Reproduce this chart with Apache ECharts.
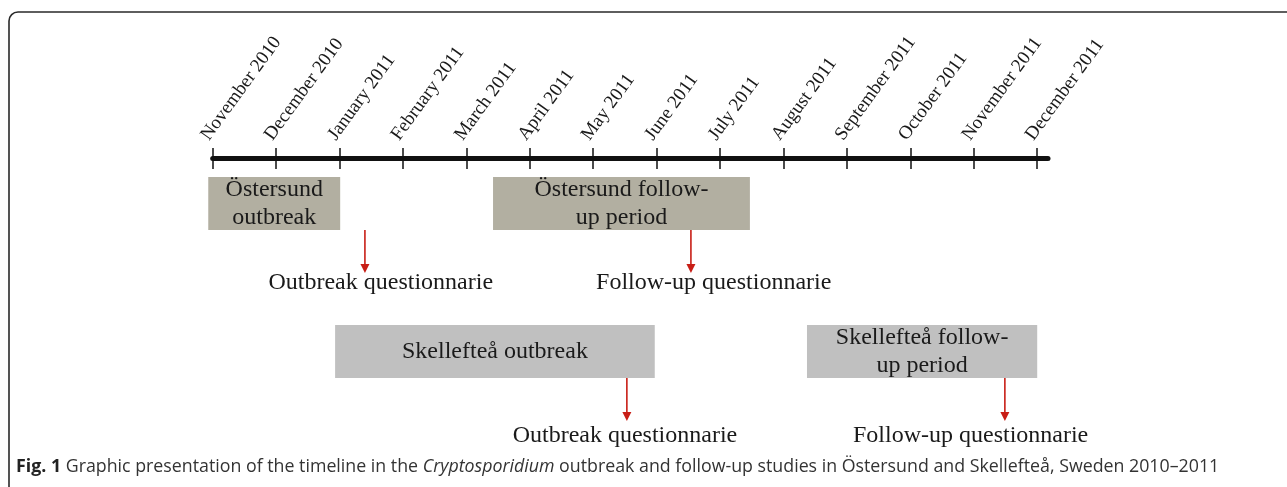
<!DOCTYPE html>
<html>
<head>
<meta charset="utf-8">
<script src="https://cdn.jsdelivr.net/npm/echarts@6/dist/echarts.min.js"></script>
<style>
  html, body { margin: 0; padding: 0; background: #fff; }
  #timeline { width: 1287px; height: 487px; }
</style>
</head>
<body>
<div id="timeline"></div>
<script>
// months on the axis, index 0 = November 2010
const months = ['November 2010', 'December 2010', 'January 2011', 'February 2011', 'March 2011',
  'April 2011', 'May 2011', 'June 2011', 'July 2011', 'August 2011', 'September 2011',
  'October 2011', 'November 2011', 'December 2011'];
const monthTicks = [0, 1, 2, 3, 4, 5, 6, 7, 8, 9, 10, 11, 12, 13];

// periods (in months from Nov 2010), lane 1 = Östersund, lane 2 = Skellefteå
const boxStart = [-0.07, 4.42, 1.93, 9.37];
const boxEnd = [2.01, 8.47, 6.97, 13.0];
const boxLane = [1, 1, 2, 2];
const boxText = ['Östersund\noutbreak', 'Östersund follow-\nup period', 'Skellefteå outbreak', 'Skellefteå follow-\nup period'];

// questionnaires
const arrowX = [2.40, 7.54, 6.53, 12.49];
const arrowLane = [1, 1, 2, 2];
const noteX = [2.65, 7.90, 6.50, 11.95];
const noteText = ['Outbreak questionnarie', 'Follow-up questionnarie', 'Outbreak questionnarie', 'Follow-up questionnarie'];

const serif = 'Liberation Serif';
const ink = '#1a1a1a';
const red = '#c81e16';

const chart = echarts.init(document.getElementById('timeline'));

function renderBox(params, api) {
  const a = api.coord([api.value(0), api.value(2)]);
  const b = api.coord([api.value(1), api.value(2)]);
  return {
    type: 'rect',
    shape: { x: a[0], y: a[1] - 26.5, width: b[0] - a[0], height: 53 },
    style: { fill: api.value(2) === 1 ? '#b2afa1' : '#c0c0c0' },
    textContent: {
      style: { text: boxText[params.dataIndex], fontSize: 24, fontFamily: serif, fill: ink, align: 'center', lineHeight: 28 }
    },
    textConfig: { position: 'inside' }
  };
}

function renderArrow(params, api) {
  const p = api.coord([api.value(0), api.value(1)]);
  const x = p[0], y0 = p[1] + 26.5, y1 = p[1] + 69.5;
  return {
    type: 'group',
    children: [
      { type: 'line', shape: { x1: x, y1: y0, x2: x, y2: y1 - 8 }, style: { stroke: red, lineWidth: 1.6 } },
      { type: 'polygon', shape: { points: [[x - 4.5, y1 - 9], [x + 4.5, y1 - 9], [x, y1]] }, style: { fill: red } }
    ]
  };
}

function renderNote(params, api) {
  const p = api.coord([api.value(0), api.value(1)]);
  // second lane's labels sit a little lower under the arrow
  const gap = api.value(1) === 1 ? 79 : 84;
  return {
    type: 'text',
    x: p[0],
    y: p[1] + gap,
    style: { text: noteText[params.dataIndex], fontSize: 24, fontFamily: serif, fill: ink, align: 'center', verticalAlign: 'middle' }
  };
}

const options = {
  animation: false,
  grid: [
    { left: 212.7, right: 239, top: 158, height: 326.7 },
    { left: 212.7, right: 239, top: 158, height: 20 }
  ],
  xAxis: [
    {
      type: 'value', gridIndex: 0, position: 'top', min: 0, max: 13.17,
      splitLine: { show: false },
      axisLine: { onZero: false, lineStyle: { color: '#111', width: 5 } },
      axisTick: { length: 10, customValues: monthTicks, lineStyle: { color: '#111', width: 1.5 } },
      axisLabel: {
        customValues: monthTicks,
        formatter: function (v) { return months[Math.round(v)] || ''; },
        rotate: -54, align: 'left', verticalAlign: 'bottom', margin: 14,
        fontSize: 19, fontFamily: serif, color: ink
      }
    },
    {
      type: 'value', gridIndex: 1, position: 'top', min: 0, max: 13.17,
      splitLine: { show: false },
      axisLine: { show: false, onZero: false },
      axisTick: { inside: true, length: 11, customValues: monthTicks, lineStyle: { color: '#111', width: 1.5 } },
      axisLabel: { show: false }
    }
  ],
  yAxis: [
    { type: 'value', gridIndex: 0, inverse: true, min: 0.6926, max: 2.9, show: false },
    { type: 'value', gridIndex: 1, show: false, min: 0, max: 1 }
  ],
  series: [
    { type: 'custom', name: 'periods', renderItem: renderBox, data: boxStart.map((s, i) => [s, boxEnd[i], boxLane[i]]) },
    { type: 'custom', name: 'questionnaire', renderItem: renderArrow, data: arrowX.map((x, i) => [x, arrowLane[i]]) },
    { type: 'custom', name: 'labels', renderItem: renderNote, data: noteX.map((x, i) => [x, arrowLane[i]]) }
  ],
  graphic: [
    {
      type: 'rect', z: 100, silent: true,
      shape: { x: 9, y: 12, width: 1400, height: 600, r: 9 },
      style: { fill: 'none', stroke: '#2a2a2a', lineWidth: 1.6 }
    },
    {
      type: 'text', x: 16, y: 458, z: 100,
      style: {
        text: '{b|Fig. 1} Graphic presentation of the timeline in the {i|Cryptosporidium} outbreak and follow-up studies in Östersund and Skellefteå, Sweden 2010–2011',
        fontSize: 17.8, fontFamily: 'Open Sans', fill: '#333',
        rich: {
          b: { fontSize: 17.8, fontFamily: 'Open Sans', fontWeight: 'bold', fill: '#222' },
          i: { fontSize: 17.8, fontFamily: 'Open Sans', fontStyle: 'italic', fill: '#333' }
        }
      }
    }
  ]
};
chart.setOption(options);
window.addEventListener('resize', function () { chart.resize(); });
</script>
</body>
</html>
